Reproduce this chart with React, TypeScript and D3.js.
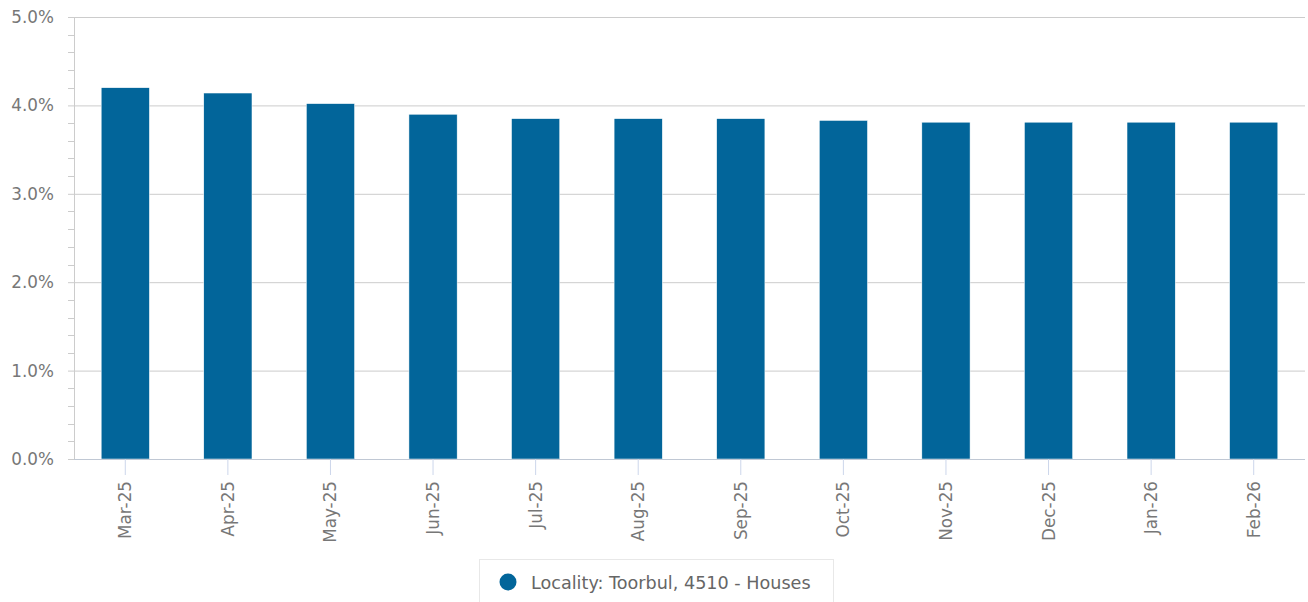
import React from "react";
import * as d3 from "d3";

const categories = ["Mar-25", "Apr-25", "May-25", "Jun-25", "Jul-25", "Aug-25", "Sep-25", "Oct-25", "Nov-25", "Dec-25", "Jan-26", "Feb-26"];
const values = [4.2, 4.14, 4.02, 3.9, 3.85, 3.85, 3.85, 3.83, 3.81, 3.81, 3.81, 3.81];
const yTicks = [0, 1, 2, 3, 4, 5];
const seriesName = "Locality: Toorbul, 4510 - Houses";

const WIDTH = 1308;
const HEIGHT = 602;
const LEFT = 74;
const RIGHT = 1305;
const TOP = 17;
const BOTTOM = 459;
const FONT = "'DejaVu Sans', sans-serif";
const BAR = "#02659a";

const App = () => {
  const x = d3.scaleBand<string>().domain(categories).range([LEFT, RIGHT]).paddingInner(0.53).paddingOuter(0.265);
  const y = d3.scaleLinear().domain([0, 5]).range([BOTTOM, TOP]);
  const minor = d3.range(0, 5.001, 0.2).filter((v) => Math.abs(v - Math.round(v)) > 0.01);

  return (
    <svg width={WIDTH} height={HEIGHT} style={{ position: "absolute", left: 0, top: 0, fontFamily: FONT }}>
      {/* grid */}
      {yTicks.map((t) => (
        <line key={t} x1={LEFT - 6} x2={RIGHT} y1={y(t) + 0.5} y2={y(t) + 0.5} stroke="#cccccc" />
      ))}
      {minor.map((t) => (
        <line key={t} x1={LEFT - 6} x2={LEFT} y1={Math.round(y(t)) + 0.5} y2={Math.round(y(t)) + 0.5} stroke="#cccccc" />
      ))}
      <line x1={LEFT + 0.5} x2={LEFT + 0.5} y1={TOP} y2={BOTTOM} stroke="#cccccc" />
      {yTicks.map((t) => (
        <text key={t} x={LEFT - 20} y={y(t) + 6} textAnchor="end" fontSize={16.8} fill="#777777">
          {t.toFixed(1) + "%"}
        </text>
      ))}

      {/* bars */}
      {values.map((v, i) => (
        <rect key={i} x={x(categories[i])!} y={y(v)} width={x.bandwidth()} height={BOTTOM - y(v)} fill={BAR} stroke="#ffffff" strokeWidth={0.5} />
      ))}

      {/* x axis */}
      <line x1={LEFT} x2={RIGHT} y1={BOTTOM + 0.5} y2={BOTTOM + 0.5} stroke="#c0c8d4" />
      {categories.map((c) => {
        const cx = x(c)! + x.bandwidth() / 2;
        return (
          <g key={c}>
            <line x1={cx} x2={cx} y1={BOTTOM} y2={BOTTOM + 16} stroke="#ccd6eb" />
            <text transform={`translate(${cx + 6},${BOTTOM + 22}) rotate(-90)`} textAnchor="end" fontSize={16.8} fill="#777777">
              {c}
            </text>
          </g>
        );
      })}

      {/* legend */}
      <rect x={479.5} y={559.5} width={354} height={50} fill="#ffffff" stroke="#e8e8e8" />
      <circle cx={508} cy={582} r={8.5} fill={BAR} />
      <text x={531} y={589} fontSize={17.6} fill="#666666">
        {seriesName}
      </text>
    </svg>
  );
};

export default App;
